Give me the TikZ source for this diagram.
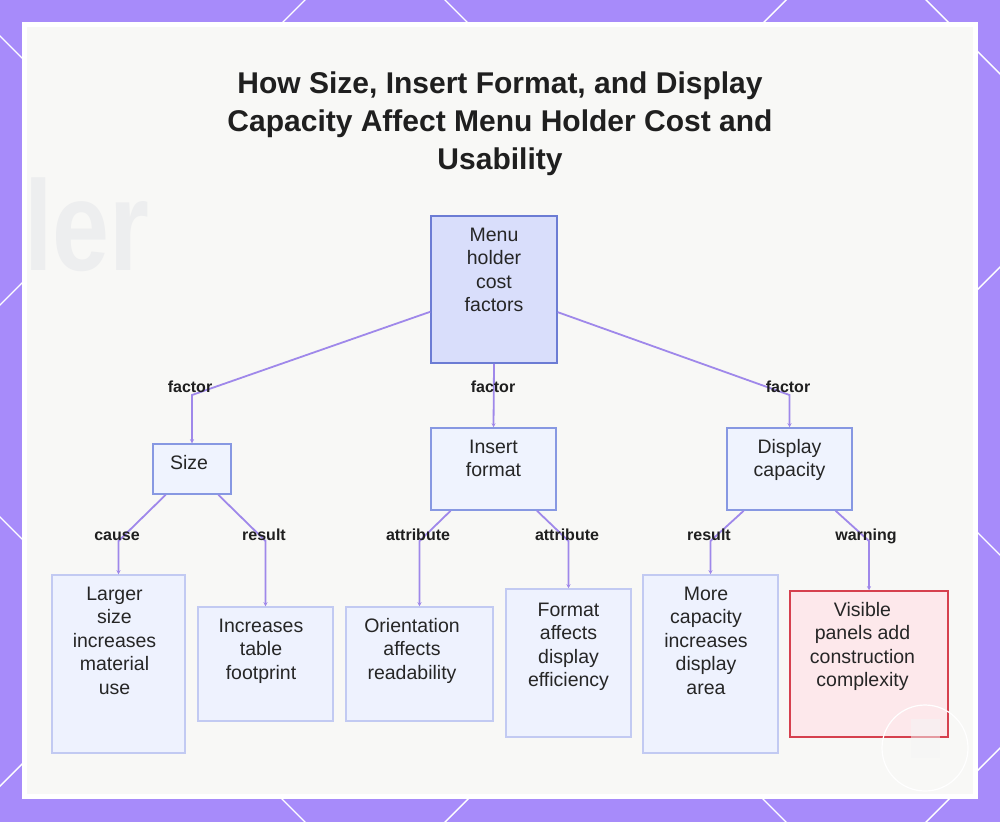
\documentclass[tikz,border=0pt]{standalone}
\usepackage{fontspec}
\setmainfont{Liberation Sans}
\usetikzlibrary{arrows.meta}
\definecolor{bgpurple}{HTML}{A78BFA}
\definecolor{cardfill}{HTML}{F8F8F6}
\definecolor{edgecol}{HTML}{9F88EA}
\definecolor{rootfill}{HTML}{D9DEFB}
\definecolor{rootdraw}{HTML}{6C7CD4}
\definecolor{midfill}{HTML}{EFF3FE}
\definecolor{middraw}{HTML}{8798E2}
\definecolor{leaffill}{HTML}{EEF2FE}
\definecolor{leafdraw}{HTML}{C2CAF2}
\definecolor{warnfill}{HTML}{FDE8EB}
\definecolor{warndraw}{HTML}{D6404E}
\definecolor{txtcol}{HTML}{262626}
\definecolor{ghost}{HTML}{EDEEEF}
\begin{document}
\begin{tikzpicture}[x=1pt,y=-1pt,
  box/.style={draw, line width=1.5pt, inner sep=0pt, rectangle},
  rootbox/.style={box, fill=rootfill, draw=rootdraw},
  midbox/.style={box, fill=midfill, draw=middraw},
  leafbox/.style={box, fill=leaffill, draw=leafdraw},
  warnbox/.style={box, fill=warnfill, draw=warndraw},
  boxtext/.style={anchor=north, align=center, inner sep=0pt, text=txtcol, font=\fontsize{19.5}{23.5}\selectfont},
  elabel/.style={anchor=base, inner sep=0pt, text=black!88, font=\fontsize{16}{18}\selectfont\bfseries},
  conn/.style={draw=edgecol, line width=1.8pt, -{Stealth[length=4pt,width=4pt]}},
  lattice/.style={draw=white, line width=1.4pt},
]
\useasboundingbox (0,0) rectangle (1000,822);
% background frame
\fill[bgpurple] (0,0) rectangle (1000,822);
\begin{scope}
  \clip (0,0) rectangle (1000,822);
  \foreach \c in {305,786,1267,1748} {\draw[lattice] (\c+100,-100) -- (\c-922,922);}
  \foreach \d in {-926,-445,36,517} {\draw[lattice] (-100,-100+\d) -- (1100,1100+\d);}
\end{scope}
% card
\fill[white] (22,22) rectangle (978,799);
\fill[cardfill] (27,27) rectangle (973,794);
\node[anchor=base west, inner sep=0pt, text=ghost, font=\fontsize{128}{128}\selectfont\bfseries] (ghosttext) at (24,270) {\scalebox{0.8}[1]{ler}};

% title
\node[anchor=north, align=center, inner sep=0pt, text=black!88, font=\fontsize{30}{38}\selectfont\bfseries] (title) at (500,70)
  {\rule{0pt}{23pt}How Size, Insert Format, and Display\\Capacity Affect Menu Holder Cost and\\Usability};

% boxes
\node[rootbox, minimum width=126, minimum height=147] (root) at (494,289.5) {};
\node[midbox, minimum width=78, minimum height=50] (size) at (192,469) {};
\node[midbox, minimum width=125, minimum height=82] (insert) at (493.5,469) {};
\node[midbox, minimum width=125, minimum height=82] (display) at (789.5,469) {};
\node[leafbox, minimum width=133, minimum height=178] (larger) at (118.5,664) {};
\node[leafbox, minimum width=135, minimum height=114] (incr) at (265.5,664) {};
\node[leafbox, minimum width=147, minimum height=114] (orient) at (419.5,664) {};
\node[leafbox, minimum width=125, minimum height=148] (format) at (568.5,663) {};
\node[leafbox, minimum width=135, minimum height=178] (more) at (710.5,664) {};
\node[warnbox, minimum width=158, minimum height=146] (visible) at (869,664) {};

% box texts
\node[boxtext] (troot) at ([yshift=-11pt]root.north) {\rule{0pt}{15pt}Menu\\holder\\cost\\factors};
\node[boxtext] (tsize) at ([yshift=-11pt,xshift=-3pt]size.north) {\rule{0pt}{15pt}Size};
\node[boxtext] (tinsert) at ([yshift=-11pt]insert.north) {\rule{0pt}{15pt}Insert\\format};
\node[boxtext] (tdisplay) at ([yshift=-11pt]display.north) {\rule{0pt}{15pt}Display\\capacity};
\node[boxtext] (tlarger) at ([yshift=-11pt,xshift=-4pt]larger.north) {\rule{0pt}{15pt}Larger\\size\\increases\\material\\use};
\node[boxtext] (tincr) at ([yshift=-11pt,xshift=-4.5pt]incr.north) {\rule{0pt}{15pt}Increases\\table\\footprint};
\node[boxtext] (torient) at ([yshift=-11pt,xshift=-7.5pt]orient.north) {\rule{0pt}{15pt}Orientation\\affects\\readability};
\node[boxtext] (tformat) at ([yshift=-13pt]format.north) {\rule{0pt}{15pt}Format\\affects\\display\\efficiency};
\node[boxtext] (tmore) at ([yshift=-11pt,xshift=-4.5pt]more.north) {\rule{0pt}{15pt}More\\capacity\\increases\\display\\area};
\node[boxtext] (tvisible) at ([yshift=-11pt,xshift=-6.5pt]visible.north) {\rule{0pt}{15pt}Visible\\panels add\\construction\\complexity};

% bend points
\coordinate (bsize) at (192,395);
\coordinate (bdisp) at (789.5,395);
\coordinate (blarger) at (118.5,541);
\coordinate (bincr) at (265.5,541);
\coordinate (borient) at (419.5,541);
\coordinate (bformat) at (568.5,541);
\coordinate (bmore) at (710.5,541);
\coordinate (bvisible) at (869,541);

% connectors
\draw[conn] (root) -- (bsize) -- (size.north);
\draw[conn] (root.south) -- (insert.north);
\draw[conn] (root) -- (bdisp) -- (display.north);
\draw[conn] (size) -- (blarger) -- (larger.north);
\draw[conn] (size) -- (bincr) -- (incr.north);
\draw[conn] (insert) -- (borient) -- (orient.north);
\draw[conn] (insert) -- (bformat) -- (format.north);
\draw[conn] (display) -- (bmore) -- (more.north);
\draw[conn] (display) -- (bvisible) -- (visible.north);

% connector labels
\node[elabel] (l1) at (190,392.5) {factor};
\node[elabel] (l2) at (493,392.5) {factor};
\node[elabel] (l3) at (788,392.5) {factor};
\node[elabel] (l4) at (117,540) {cause};
\node[elabel] (l5) at (264,540) {result};
\node[elabel] (l6) at (418,540) {attribute};
\node[elabel] (l7) at (567,540) {attribute};
\node[elabel] (l8) at (709,540) {result};
\node[elabel] (l9) at (866,540) {warning};

% watermark
\draw[white, line width=1.2pt] (925,748) circle (43);
\fill[white!96!black, opacity=0.5] (911,719) rectangle (940,758);
\end{tikzpicture}
\end{document}
